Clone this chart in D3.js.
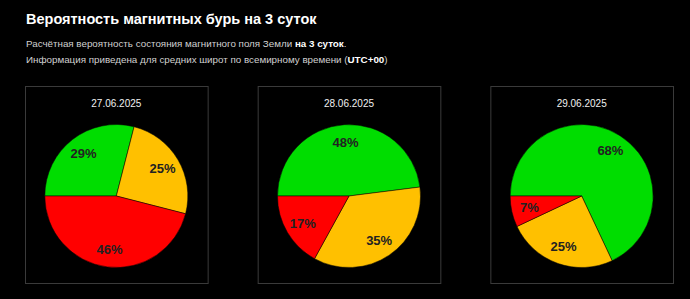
<!DOCTYPE html>
<html>
<head>
<meta charset="utf-8">
<script src="https://cdn.jsdelivr.net/npm/d3@7"></script>
<style>
  body { margin: 0; background: #000; }
  svg { display: block; font-family: "Liberation Sans", Arial, sans-serif; }
</style>
</head>
<body>
<svg id="chart"></svg>
<script>
// data
var dates = ["27.06.2025", "28.06.2025", "29.06.2025"];
var levels = ["quiet", "active", "storm"];
var quiet = [29, 48, 68];
var active = [25, 35, 25];
var storm = [46, 17, 7];
var colors = ["#00dd00", "#ffc000", "#ff0000"];

var width = 690, height = 299;

var svg = d3.select("#chart")
  .attr("width", width)
  .attr("height", height);

// header
svg.append("text")
  .attr("x", 26).attr("y", 24)
  .attr("fill", "#fff")
  .style("font-size", "14.5px")
  .style("font-weight", "bold")
  .text("Вероятность магнитных бурь на 3 суток");

var sub1 = svg.append("text")
  .attr("x", 26).attr("y", 46.5)
  .attr("fill", "#d0d0d0")
  .style("font-size", "9.8px");
sub1.append("tspan").text("Расчётная вероятность состояния магнитного поля Земли ");
sub1.append("tspan").attr("fill", "#fff").style("font-weight", "bold").text("на 3 суток");
sub1.append("tspan").text(".");

var sub2 = svg.append("text")
  .attr("x", 26).attr("y", 63)
  .attr("fill", "#d0d0d0")
  .style("font-size", "9.8px");
sub2.append("tspan").text("Информация приведена для средних широт по всемирному времени (");
sub2.append("tspan").attr("fill", "#fff").style("font-weight", "bold").text("UTC+00");
sub2.append("tspan").text(")");

// panels
var xBand = d3.scaleBand()
  .domain(dates)
  .range([25, 673])
  .paddingInner(0.215);

var boxTop = 86, boxBottom = 283;
var radius = 71.5;
var cy = 196;

var pie = d3.pie()
  .sort(null)
  .value(function(d) { return d.value; })
  .startAngle(-Math.PI / 2)
  .endAngle(Math.PI * 1.5);

var arc = d3.arc().innerRadius(0).outerRadius(radius);
var labelArc = d3.arc().innerRadius(radius * 0.75).outerRadius(radius * 0.75);

dates.forEach(function(date, i) {
  var rows = [
    {level: levels[0], value: quiet[i]},
    {level: levels[1], value: active[i]},
    {level: levels[2], value: storm[i]}
  ];
  var x0 = xBand(date);
  var cx = x0 + xBand.bandwidth() / 2;

  var g = svg.append("g");

  g.append("rect")
    .attr("x", x0 + 0.5)
    .attr("y", boxTop + 0.5)
    .attr("width", xBand.bandwidth())
    .attr("height", boxBottom - boxTop)
    .attr("fill", "none")
    .attr("stroke", "#3a3a3a")
    .attr("stroke-width", 1);

  g.append("text")
    .attr("x", cx)
    .attr("y", 107)
    .attr("text-anchor", "middle")
    .attr("fill", "#f0f0f0")
    .style("font-size", "10px")
    .text(date);

  var pg = g.append("g").attr("transform", "translate(" + cx + "," + cy + ")");

  var slices = pg.selectAll("g.slice")
    .data(pie(rows))
    .enter().append("g")
    .attr("class", "slice");

  slices.append("path")
    .attr("d", arc)
    .attr("fill", function(d, j) { return colors[j]; })
    .attr("stroke", "#000")
    .attr("stroke-width", 0.5);

  slices.append("text")
    .attr("transform", function(d) { return "translate(" + labelArc.centroid(d) + ")"; })
    .attr("text-anchor", "middle")
    .attr("dy", "0.35em")
    .attr("fill", "#222")
    .style("font-size", "13px")
    .style("font-weight", "bold")
    .text(function(d) { return d.data.value + "%"; });
});
</script>
</body>
</html>
